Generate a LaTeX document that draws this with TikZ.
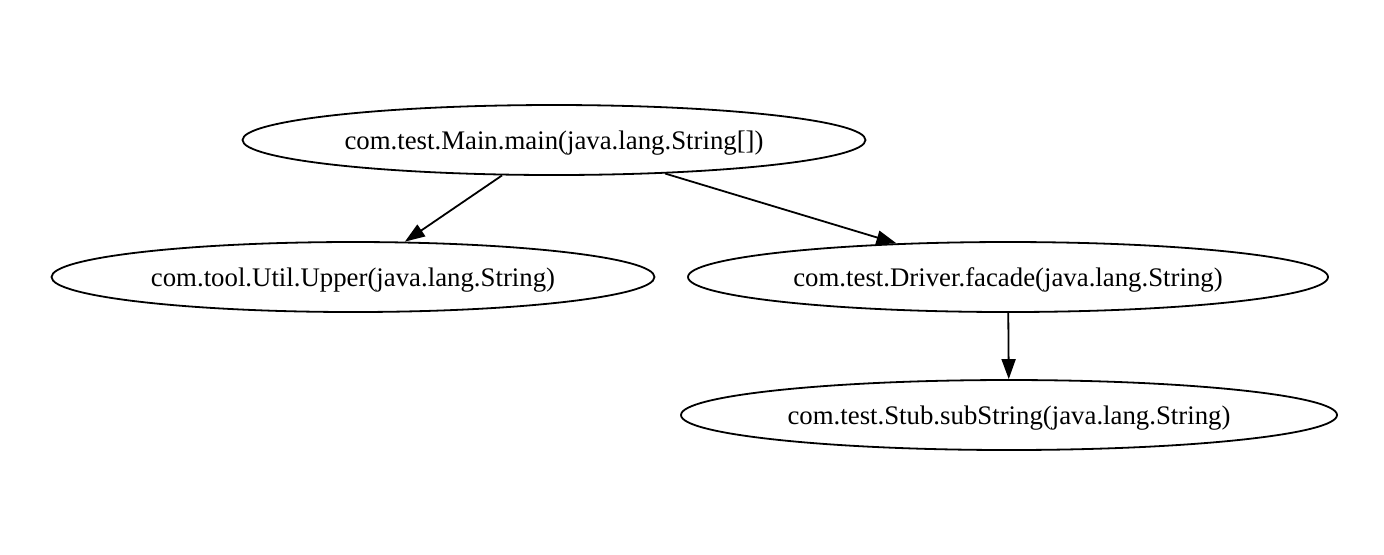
\documentclass[tikz,border=0pt]{standalone}
\usepackage{fontspec}
\setmainfont{Liberation Serif}
\usetikzlibrary{shapes.geometric,arrows.meta}
\begin{document}
\begin{tikzpicture}[x=0.5pt,y=-0.5pt,
            callnode/.style={draw,ellipse,line width=0.9pt,inner sep=0pt,text depth=0pt,minimum height=35pt,font=\fontsize{13.4pt}{16pt}\selectfont},
            callarrow/.style={line width=0.9pt,-{Triangle[length=10pt,width=7pt]}}]
            \useasboundingbox (0,0) rectangle (1384,554);
            \node[callnode,minimum width=311.5pt] (main) at (554,140) {com.test.Main.main(java.lang.String[])};
            \node[callnode,minimum width=301.5pt] (upper) at (353,277) {com.tool.Util.Upper(java.lang.String)};
            \node[callnode,minimum width=320pt] (facade) at (1008,277) {com.test.Driver.facade(java.lang.String)};
            \node[callnode,minimum width=328pt] (substring) at (1009,415) {com.test.Stub.subString(java.lang.String)};
            \draw[callarrow] (main) -- (upper);
            \draw[callarrow] (main) -- (facade);
            \draw[callarrow] (facade) -- (substring);
          \end{tikzpicture}
\end{document}
